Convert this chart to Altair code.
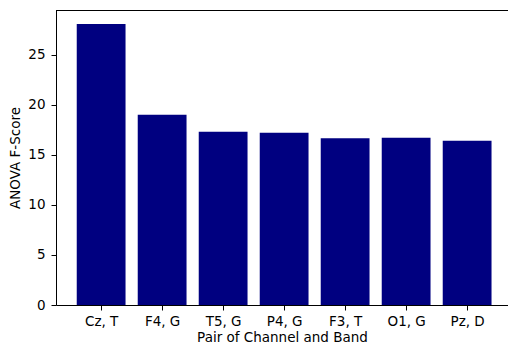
import json
import altair as alt
import pandas as pd

labels = ["Cz, T", "F4, G", "T5, G", "P4, G", "F3, T", "O1, G", "Pz, D"]
scores = [28.05, 19.0, 17.3, 17.2, 16.65, 16.7, 16.4]

df = pd.DataFrame({"idx": list(range(len(labels))), "pair": labels, "score": scores})

FONT = "DejaVu Sans"
FS = 13.5

x_scale = alt.Scale(domain=[-0.74, 6.67], nice=False, zero=False, padding=0)
y_scale = alt.Scale(domain=[0, 29.45], nice=False, padding=0)

bars = alt.Chart(df).transform_calculate(
    x0="datum.idx - 0.4", x1="datum.idx + 0.4"
).mark_bar(color="#000080", clip=True, orient="vertical").encode(
    x=alt.X("x0:Q", scale=x_scale,
            axis=alt.Axis(title="Pair of Channel and Band", values=list(range(len(labels))),
                          labelExpr=json.dumps(labels) + "[datum.value]",
                          grid=False, tickSize=5, labelPadding=4, titlePadding=3,
                          domainColor="black", tickColor="black", labelColor="black",
                          titleColor="black", labelFont=FONT, titleFont=FONT,
                          labelFontSize=FS, titleFontSize=FS, titleFontWeight="normal",
                          labelFlush=False)),
    x2="x1:Q",
    y=alt.Y("score:Q", scale=y_scale,
            axis=alt.Axis(title="ANOVA F-Score", values=[0, 5, 10, 15, 20, 25],
                          grid=False, tickSize=5, labelPadding=6, titlePadding=5,
                          domainColor="black", tickColor="black", labelColor="black",
                          titleColor="black", labelFont=FONT, titleFont=FONT,
                          labelFontSize=FS, titleFontSize=FS, titleFontWeight="normal",
                          labelFlush=False)),
    y2=alt.datum(0),
)

top_spine = alt.Chart(df).mark_rule(color="black", strokeWidth=1).encode(
    x=alt.value(0), x2=alt.value(452), y=alt.value(0.5)
).transform_filter("datum.idx == 0")

chart = alt.layer(bars, top_spine).properties(
    width=452, height=295,
    autosize=alt.AutoSizeParams(type="none"),
    padding={"left": 56, "top": 10, "right": 0, "bottom": 39},
    background="white",
).configure_view(stroke=None)

chart.save("out.html", embed_options={"renderer": "svg", "actions": False})
